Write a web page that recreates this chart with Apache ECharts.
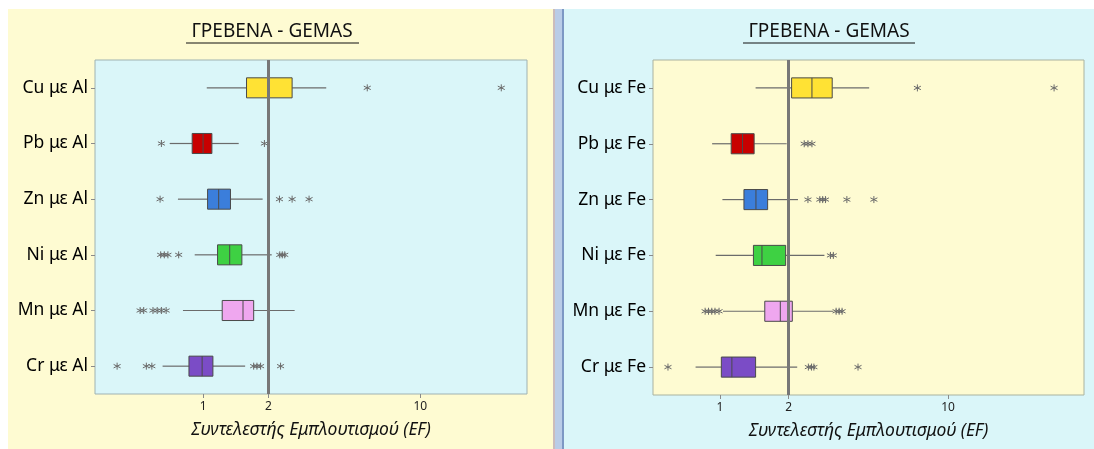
<!DOCTYPE html>
<html>
<head>
<meta charset="utf-8">
<script src="https://cdn.jsdelivr.net/npm/echarts@6/dist/echarts.min.js"></script>
<style>html,body{margin:0;padding:0;background:#fff;}#c{width:1094px;height:449px;}</style>
</head>
<body>
<div id="c"></div>
<script>
// ---- data ----
const titleText = 'ΓΡΕΒΕΝΑ - GEMAS';
const axisTitle = 'Συντελεστής Εμπλουτισμού (EF)';
const tickValues = [1, 2, 10];
const refValue = 2;
const catsAl = ['Cu με Al', 'Pb με Al', 'Zn με Al', 'Ni με Al', 'Mn με Al', 'Cr με Al'];
const catsFe = ['Cu με Fe', 'Pb με Fe', 'Zn με Fe', 'Ni με Fe', 'Mn με Fe', 'Cr με Fe'];
const boxColors = ['#FFE234', '#C80000', '#3B7EDB', '#3ED143', '#EFA7EF', '#7B4CC6'];
// [min whisker, Q1, median, Q3, max whisker]
const boxAl = [
  [1.04, 1.585, 2.0, 2.57, 3.69],
  [0.702, 0.891, 1.0, 1.098, 1.459],
  [0.766, 1.049, 1.18, 1.337, 1.88],
  [0.915, 1.166, 1.326, 1.509, 2.07],
  [0.808, 1.225, 1.527, 1.71, 2.64],
  [0.651, 0.861, 0.99, 1.11, 1.562]
];
const outAl = [
  [5.70, 23.6],
  [0.643, 1.916],
  [0.634, 2.247, 2.57, 3.076],
  [0.638, 0.663, 0.689, 0.772, 2.255, 2.316, 2.377],
  [0.513, 0.533, 0.588, 0.615, 0.643, 0.676],
  [0.402, 0.548, 0.581, 1.71, 1.77, 1.84, 2.274]
];
const boxFe = [
  [1.432, 2.06, 2.53, 3.105, 4.51],
  [0.923, 1.119, 1.255, 1.411, 1.96],
  [1.024, 1.273, 1.437, 1.617, 2.197],
  [0.957, 1.401, 1.527, 1.94, 2.87],
  [1.03, 1.571, 1.838, 2.075, 3.14],
  [0.781, 1.013, 1.127, 1.432, 2.18]
];
const outFe = [
  [7.34, 29.2],
  [2.34, 2.43, 2.53],
  [2.43, 2.74, 2.82, 2.90, 3.60, 4.73],
  [3.05, 3.14],
  [0.86, 0.89, 0.92, 0.95, 0.99, 3.23, 3.33, 3.43],
  [0.591, 2.44, 2.52, 2.58, 4.03]
];

// ---- styling ----
const YELLOW = '#FEFBD2';
const CYAN = '#DAF6F9';
const FONT = 'Noto Sans';
const asterisk = 'path://M5,0L5,10M0.7,2.5L9.3,7.5M0.7,7.5L9.3,2.5';

function xAxisCfg(gi, min, max) {
  return {
    type: 'log', logBase: 10, gridIndex: gi, min: min, max: max,
    axisLine: {show: false},
    splitLine: {show: false},
    minorTick: {show: false},
    axisTick: {show: true, customValues: tickValues, length: 4, lineStyle: {color: '#8a8a8a'}},
    axisLabel: {customValues: tickValues, formatter: v => String(v), fontFamily: FONT, fontSize: 12, color: '#222', margin: 7},
    name: axisTitle, nameLocation: 'middle', nameGap: 27,
    nameTextStyle: {fontFamily: FONT, fontStyle: 'italic', fontSize: 17.5, color: '#111'}
  };
}
function yAxisCfg(gi, cats) {
  return {
    type: 'category', gridIndex: gi, data: cats, inverse: true,
    axisLine: {show: false},
    axisTick: {show: true, alignWithLabel: true, length: 4, lineStyle: {color: '#8a8a8a'}},
    axisLabel: {fontFamily: FONT, fontSize: 17.5, color: '#000', margin: 7}
  };
}
function renderBox(params, api) {
  const cat = api.value(0);
  const p = [1, 2, 3, 4, 5].map(d => api.coord([api.value(d), cat]));
  const y = p[0][1];
  const h = api.size([0, 1])[1] * 0.36;
  const col = boxColors[params.dataIndex];
  return {
    type: 'group',
    children: [
      {type: 'line', shape: {x1: p[0][0], y1: y, x2: p[1][0], y2: y}, style: {stroke: '#6b6b6b', lineWidth: 1.2}},
      {type: 'line', shape: {x1: p[3][0], y1: y, x2: p[4][0], y2: y}, style: {stroke: '#6b6b6b', lineWidth: 1.2}},
      {type: 'rect', shape: {x: p[1][0], y: y - h / 2, width: p[3][0] - p[1][0], height: h}, style: {fill: col, stroke: '#4a4a4a', lineWidth: 1}},
      {type: 'line', shape: {x1: p[2][0], y1: y - h / 2, x2: p[2][0], y2: y + h / 2}, style: {stroke: '#4a4a4a', lineWidth: 1}}
    ]
  };
}
function boxSeries(gi, boxes) {
  return {
    type: 'custom', xAxisIndex: gi, yAxisIndex: gi,
    renderItem: renderBox,
    encode: {y: 0, x: [1, 2, 3, 4, 5]},
    data: boxes.map((v, i) => [i].concat(v)),
    z: 3
  };
}
function outSeries(gi, outs, cats) {
  const d = [];
  outs.forEach((arr, i) => arr.forEach(v => d.push([v, cats[i]])));
  return {
    type: 'scatter', xAxisIndex: gi, yAxisIndex: gi, data: d,
    symbol: asterisk, symbolSize: 7,
    itemStyle: {color: 'rgba(0,0,0,0)', borderColor: '#6a6a6a', borderWidth: 1, opacity: 1},
    z: 4,
    markLine: {
      silent: true, symbol: ['none', 'none'], label: {show: false},
      lineStyle: {color: '#777', width: 3, type: 'solid'},
      data: [{xAxis: refValue}]
    }
  };
}

const chart = echarts.init(document.getElementById('c'), null, {renderer: 'canvas'});
chart.setOption({
  animation: false,
  backgroundColor: '#ffffff',
  graphic: [
    {type: 'rect', z: -10, shape: {x: 8, y: 9, width: 545, height: 440}, style: {fill: YELLOW}},
    {type: 'rect', z: -10, shape: {x: 553, y: 9, width: 2, height: 440}, style: {fill: '#cbbcbc'}},
    {type: 'rect', z: -10, shape: {x: 555, y: 9, width: 7, height: 440}, style: {fill: '#b9cce7'}},
    {type: 'rect', z: -10, shape: {x: 562, y: 9, width: 2, height: 440}, style: {fill: '#7d98c4'}},
    {type: 'rect', z: -10, shape: {x: 564, y: 9, width: 530, height: 440}, style: {fill: CYAN}},
    {type: 'text', z: 10, x: 272, y: 32, style: {text: titleText, fontFamily: FONT, fontSize: 19, fill: '#111', align: 'center', verticalAlign: 'middle', textAlign: 'center', textVerticalAlign: 'middle'}},
    {type: 'line', z: 10, shape: {x1: 186, y1: 43, x2: 359, y2: 43}, style: {stroke: '#111', lineWidth: 1}},
    {type: 'text', z: 10, x: 829, y: 32, style: {text: titleText, fontFamily: FONT, fontSize: 19, fill: '#111', align: 'center', verticalAlign: 'middle', textAlign: 'center', textVerticalAlign: 'middle'}},
    {type: 'line', z: 10, shape: {x1: 743, y1: 43, x2: 915, y2: 43}, style: {stroke: '#111', lineWidth: 1}}
  ],
  grid: [
    {left: 95, top: 60, width: 432, height: 334, show: true, backgroundColor: CYAN, borderColor: '#9fb2b2', borderWidth: 1},
    {left: 653, top: 60, width: 431, height: 335, show: true, backgroundColor: YELLOW, borderColor: '#a9b2a0', borderWidth: 1}
  ],
  xAxis: [xAxisCfg(0, 0.318, 31), xAxisCfg(1, 0.508, 39.5)],
  yAxis: [yAxisCfg(0, catsAl), yAxisCfg(1, catsFe)],
  series: [
    boxSeries(0, boxAl), outSeries(0, outAl, catsAl),
    boxSeries(1, boxFe), outSeries(1, outFe, catsFe)
  ]
});
</script>
</body>
</html>
